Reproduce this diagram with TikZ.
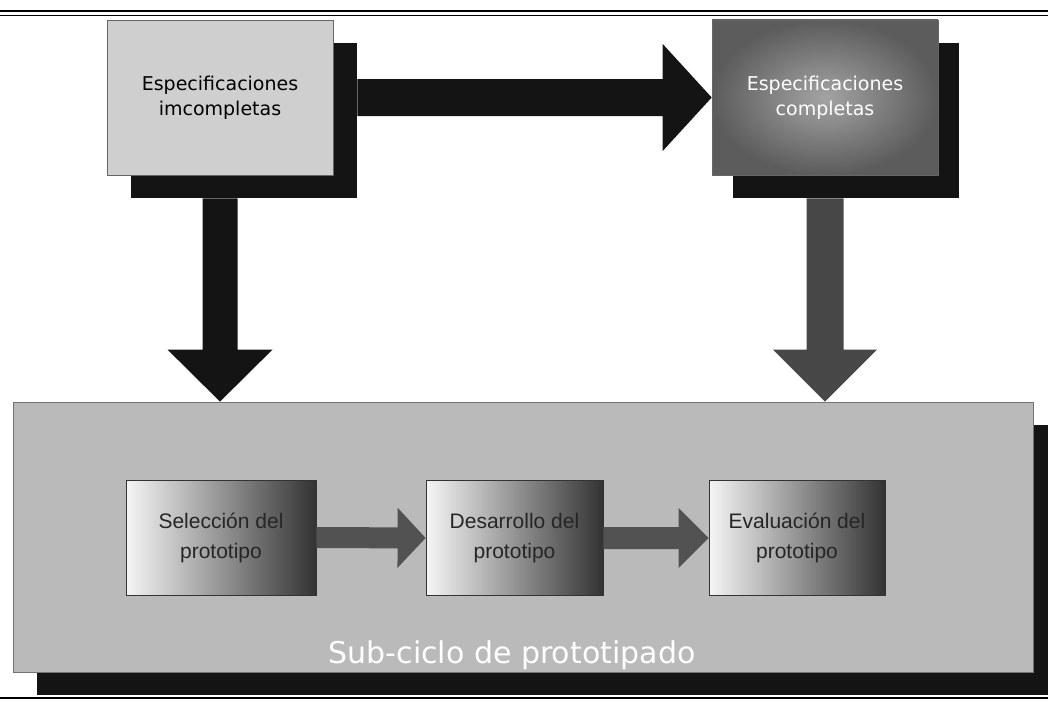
\documentclass[tikz,border=0pt]{standalone}
\usepackage{fontspec}
\setmainfont{Liberation Sans}
\newfontfamily\handfont{DejaVu Sans}
\usetikzlibrary{calc,shadows}

% Solid block arrow from #2 to #3: shaft half width #4, head half width #5, head length #6
\newcommand\blockarrow[6][]{%
  \coordinate (ba-h) at ($(#3)!#6!(#2)$);
  \fill[#1] ($(#2)!#4!90:(#3)$) -- ($(ba-h)!#4!90:(#3)$) -- ($(ba-h)!#5!90:(#3)$)
    -- (#3) -- ($(ba-h)!#5!-90:(#3)$) -- ($(ba-h)!#4!-90:(#3)$)
    -- ($(#2)!#4!-90:(#3)$) -- cycle;}

\tikzset{
  specbox/.style={draw=black!60, line width=0.6pt, minimum width=226pt,
    minimum height=155pt, inner sep=0pt, align=center,
    font=\handfont\fontsize{19}{25}\selectfont},
  stagebox/.style={draw=black!80, line width=0.8pt, minimum height=115pt,
    inner sep=0pt, align=center, text=black!85,
    left color=black!4, middle color=black!28, right color=black!80,
    font=\fontsize{21}{30}\selectfont},
  darkshadow/.style={drop shadow={shadow xshift=#1, shadow yshift=-23pt,
    fill=black!92, opacity=1}},
  bigarrow/.style={fill=black!92},
  smallarrow/.style={fill=black!68},
}

\begin{document}
\begin{tikzpicture}[x=1pt,y=-1pt]
\useasboundingbox (0,0) rectangle (1048,701);
\fill[white] (0,0) rectangle (1048,701);

% page rules
\draw[line width=2.6pt] (0,11) -- (1048,11);
\draw[line width=1.2pt] (0,15.5) -- (1048,15.5);
\draw[line width=2pt] (0,698) -- (1048,698);

% prototyping sub-cycle panel
\node[draw=black!55, line width=0.8pt, fill=black!27, minimum width=1020pt,
  minimum height=270pt, inner sep=0pt, darkshadow=24pt] (panel) at (523,537) {};
\node[text=white, font=\handfont\fontsize{30}{34}\selectfont] (paneltitle)
  at (512,655) {Sub-ciclo de prototipado};

% specification boxes
\node[specbox, fill=black!19, darkshadow=24pt] (b1) at (220,97.5)
  {Especificaciones\\imcompletas};
\node[specbox, shading=radial, inner color=black!36, outer color=black!64,
  text=white, darkshadow=21pt] (b2) at (825,97.5)
  {Especificaciones\\completas};

% stages of the sub-cycle
\node[stagebox, minimum width=190pt] (sa) at (221,537.5) {Selección del\\prototipo};
\node[stagebox, minimum width=177pt] (sb) at (514.5,538) {Desarrollo del\\prototipo};
\node[stagebox, minimum width=176pt] (sc) at (797,538) {Evaluación del\\prototipo};

% connectors
\coordinate (b1shadowE) at ($(b1.east)+(24,0)$);
\coordinate (b1shadowS) at ($(b1.south)+(0,23)$);
\coordinate (b2shadowS) at ($(b2.south)+(0,23)$);
\blockarrow[bigarrow]{b1shadowE}{b2.west}{18.5pt}{53.5pt}{49pt}
\blockarrow[bigarrow]{b1shadowS}{b1.south |- panel.north}{17.5pt}{52.5pt}{52pt}
\blockarrow[fill=black!72]{b2shadowS}{b2.south |- panel.north}{18.5pt}{52pt}{52pt}
\blockarrow[smallarrow]{sa.east}{sb.west}{10.5pt}{30pt}{28pt}
\blockarrow[smallarrow]{sb.east}{sc.west}{11pt}{30pt}{30pt}
\end{tikzpicture}
\end{document}
